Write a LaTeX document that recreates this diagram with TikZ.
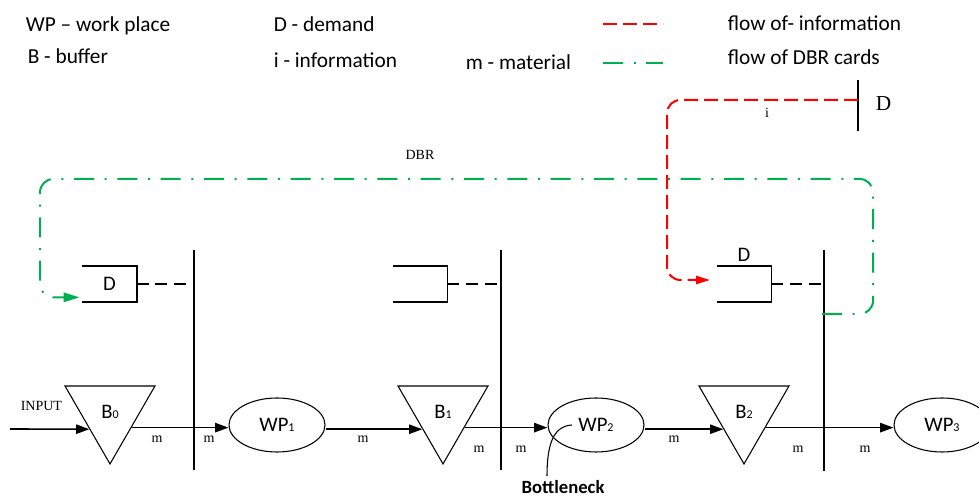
\documentclass[tikz,border=0pt]{standalone}
\usepackage{fontspec}
\setmainfont{Carlito}
\newfontfamily\timesfont{Liberation Serif}
\usetikzlibrary{arrows.meta, positioning, shapes.geometric, calc}
\definecolor{cred}{HTML}{FF0000}
\definecolor{cgreen}{HTML}{00B050}
\newcommand{\subidx}[1]{{\fontsize{9}{9}\selectfont #1}}
\tikzset{
  every picture/.style={x=0.75pt, y=-0.75pt, line width=1.2pt},
  wp/.style={ellipse, draw, line width=0.8pt, minimum width=72pt, minimum height=40.5pt, inner sep=0pt, font=\fontsize{15.5}{15.5}\selectfont},
  buffer/.style={regular polygon, regular polygon sides=3, shape border rotate=180, draw, line width=0.8pt, minimum size=77.9pt, inner sep=0pt, font=\fontsize{15.5}{15.5}\selectfont},
  demand/.style={minimum width=39.75pt, minimum height=25.5pt, inner sep=0pt, font=\fontsize{15.5}{15.5}\selectfont},
  bar/.style={line width=2pt},
  mat/.style={-{Triangle[length=10pt, width=7pt]}},
  link/.style={dash pattern=on 9pt off 5pt},
  mlabel/.style={font=\timesfont\fontsize{10.5}{10.5}\selectfont, anchor=base, inner sep=0pt},
  info/.style={draw=cred, line width=1.5pt, dash pattern=on 10.5pt off 4.5pt, rounded corners=10pt},
  dbr/.style={draw=cgreen, line width=1.5pt, dash pattern=on 15pt off 8pt on 1.5pt off 8pt, rounded corners=10pt},
  legend/.style={font=\fontsize{16}{16}\selectfont, anchor=base west, inner sep=0pt},
}
\begin{document}
\begin{tikzpicture}
  \useasboundingbox (0,0) rectangle (979,498);
  % legend
  \node[legend] (lwp) at (25,32) {WP -- work place};
  \node[legend] (lb) at (27,64) {B - buffer};
  \node[legend] (ld) at (273,32) {D - demand};
  \node[legend] (li) at (273,68) {i - information};
  \node[legend] (lm) at (465,70) {m - material};
  \node[legend] (linfo) at (727,31) {flow of- information};
  \node[legend] (ldbr) at (727,65) {flow of DBR cards};
  \draw[info] (603,24) -- (663,24);
  \draw[dbr] (603,63) -- (663,63);
  % buffers and work places
  \node[buffer] (b0) at (110,412) {B\subidx{0}};
  \node[buffer] (b1) at (443,412) {B\subidx{1}};
  \node[buffer] (b2) at (744,412) {B\subidx{2}};
  \node[wp] (wp1) at (277,425) {WP\subidx{1}};
  \node[wp] (wp2) at (596,425) {WP\subidx{2}};
  \node[wp] (wp3) at (942,425) {WP\subidx{3}};
  % demand boxes
  \node[demand] (d0) at (109.5,284) {D};
  \node[demand] (d1) at (420,284) {};
  \node[demand] (d2) at (744,284) {};
  \node[above=3pt of d2, inner sep=0pt, font=\fontsize{15.5}{15.5}\selectfont] (d2l) {D};
  % bars
  \coordinate (bar1t) at (194,250); \coordinate (bar1b) at (194,470);
  \coordinate (bar2t) at (501,250); \coordinate (bar2b) at (501,470);
  \coordinate (bar3t) at (824,250); \coordinate (bar3b) at (824,471);
  \foreach \b in {bar1, bar2, bar3}
    \draw[bar] (\b t) -- (\b b);
  \foreach \d/\b in {d0/bar1t, d1/bar2t, d2/bar3t} {
    \draw (\d.north west) -- (\d.north east) -- (\d.south east) -- (\d.south west);
    \draw[link] (\d.east) -- (\d.east -| \b);
  }
  % final demand
  \coordinate (dtopt) at (858,80); \coordinate (dtopb) at (858,131);
  \draw[bar] (dtopt) -- (dtopb);
  \node[anchor=base west, inner sep=0pt, font=\timesfont\fontsize{16}{16}\selectfont] (dtop) at (875,111) {D};
  % information flow
  \coordinate (isrc) at (858,100);
  \draw[info, -{Triangle[length=10.5pt, width=6pt]}] (isrc) -- (667,100) |- ([xshift=-5pt, yshift=3pt]d2.west);
  \node[mlabel] (ilbl) at (767,118) {i};
  % DBR cards
  \coordinate (dbrsrc) at (822,314);
  \draw[dbr, -{Triangle[length=12pt, width=7pt]}] (dbrsrc) -- (873,314) |- (40,179) |- ([xshift=-2pt, yshift=-10pt]d0.west);
  \node[mlabel] (dbrl) at (420,160) {DBR};
  % material flow
  \coordinate (inp) at (10,429);
  \node[mlabel, anchor=base west] (inl) at (20,411) {INPUT};
  \foreach \b in {b0, b1, b2} {
    \coordinate (\b l) at ($(\b.corner 3)!0.55!(\b.corner 1)$);
    \coordinate (\b r) at ($(\b.corner 2)!0.53!(\b.corner 1)$);
  }
  \draw[mat] (inp) -- (b0l);
  \draw[mat] (b0r) -- (b0r -| wp1.west);
  \draw[mat] (wp1.east |- b1l) -- (b1l);
  \draw[mat] (b1r) -- (b1r -| wp2.west);
  \draw[mat] (wp2.east |- b2l) -- (b2l);
  \draw[mat] (b2r) -- (b2r -| wp3.west);
  \foreach \x/\y [count=\i] in {157/443, 209/443, 363/443, 479/453, 521/453, 674/443, 798/453, 865/453}
    \node[mlabel] (m\i) at (\x,\y) {m};
  % bottleneck
  \node[anchor=base, inner sep=0pt, font=\bfseries\fontsize{14}{14}\selectfont] (bneck) at (563,494) {Bottleneck};
  \draw[line width=0.8pt] ([xshift=-12pt, yshift=3pt]bneck.north) .. controls (547,445) and (553,426) .. ([xshift=-18pt]wp2.center);
\end{tikzpicture}
\end{document}
